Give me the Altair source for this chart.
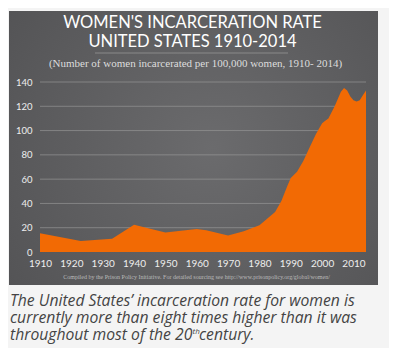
import altair as alt
import pandas as pd

# ---- data ----
years = [1910, 1923, 1933, 1940, 1950, 1960, 1963, 1970, 1975, 1980, 1985, 1987,
         1989, 1990, 1992, 1994, 1996, 1998, 2000, 2001, 2002, 2004, 2006, 2007,
         2008, 2009, 2010, 2011, 2012, 2013, 2014]
rates = [15.5, 9, 11, 22.5, 16, 19, 18, 13.5, 17, 22, 33, 42,
         55, 61, 66, 75, 86, 97, 106, 108, 110, 120, 132, 135,
         133, 128, 125, 124, 125, 129, 133]
grid_values = [20, 40, 60, 80, 100, 120, 140]
y_ticks = [0, 20, 40, 60, 80, 100, 120, 140]
x_ticks = [1910, 1920, 1930, 1940, 1950, 1960, 1970, 1980, 1990, 2000, 2010]
title_lines = ["WOMEN'S INCARCERATION RATE", "UNITED STATES 1910-2014"]
subtitle = "(Number of women incarcerated per 100,000 women, 1910- 2014)"
footer = ("Compiled by the Prison Policy Initiative. For detailed sourcing see "
          "http://www.prisonpolicy.org/global/women/")
caption_lines = ["The United States\u2019 incarceration rate for women is",
                 "currently more than eight times higher than it was",
                 "throughout most of the 20"]
caption_sup = "th"
caption_end = " century."

df = pd.DataFrame({"year": years, "rate": rates})
grid_df = pd.DataFrame({"v": grid_values})

W, H = 326, 170
ORANGE = "#f26a04"

xscale = alt.Scale(domain=[1910, 2014], nice=False, zero=False)
yscale = alt.Scale(domain=[0, 140], nice=False)

y_axis = alt.Axis(values=y_ticks, title=None, grid=False, domain=False, ticks=False,
                  labelColor="#eeeeee", labelFont="Lato", labelFontSize=9.5,
                  labelPadding=8, zindex=1)
x_axis = alt.Axis(values=x_ticks, format="d", title=None, grid=False, domain=False,
                  ticks=False, labelColor="#eeeeee", labelFont="Lato",
                  labelFontSize=10, labelPadding=6, labelFlush=False, zindex=1)

panel = alt.Chart(pd.DataFrame({"a": [0]})).mark_rect(
    color=alt.RadialGradient(
        gradient="radial", x1=0.55, y1=0.5, r1=0, x2=0.55, y2=0.5, r2=0.75,
        stops=[alt.GradientStop(offset=0, color="#6b6b6d"),
               alt.GradientStop(offset=1, color="#515153")])
).encode(x=alt.value(-31), x2=alt.value(338), y=alt.value(-71), y2=alt.value(203))

grid = alt.Chart(grid_df).mark_rule(color="#9a9a9a", strokeWidth=0.8, opacity=0.8).encode(
    y=alt.Y("v:Q", scale=yscale, axis=y_axis),
    x=alt.value(0), x2=alt.value(W))

area = alt.Chart(df).mark_area(color=ORANGE, opacity=1).encode(
    x=alt.X("year:Q", scale=xscale, axis=x_axis),
    y=alt.Y("rate:Q", scale=yscale, axis=y_axis))

def txt(text, x, y, **kw):
    return alt.Chart(pd.DataFrame({"t": [text]})).mark_text(**kw).encode(
        text="t:N", x=alt.value(x), y=alt.value(y))

CAP = dict(font="Open Sans", fontSize=15.7, fontStyle="italic", color="#444444",
           align="left", baseline="alphabetic")

texts = [
    txt(title_lines[0], 152.5, -54, font="Lato", fontSize=16.5, color="#ffffff",
        align="center", baseline="alphabetic"),
    txt(title_lines[1], 152.5, -35, font="Lato", fontSize=16.5, color="#ffffff",
        align="center", baseline="alphabetic"),
    txt(subtitle, 155.5, -15, font="Liberation Serif", fontSize=11, color="#dddddd",
        align="center", baseline="alphabetic"),
    txt(footer, 156.5, 197, font="Liberation Serif", fontSize=6, color="#bbbbbb",
        align="center", baseline="alphabetic"),
    txt(caption_lines[0], -30, 224, **CAP),
    txt(caption_lines[1], -30, 241, **CAP),
    txt(caption_lines[2], -30, 258, **CAP),
    txt(caption_sup, 152.5, 252, font="Open Sans", fontSize=8, fontStyle="italic",
        color="#444444", align="left", baseline="alphabetic"),
    txt(caption_end, 159, 258, **CAP),
]

divider = alt.Chart(pd.DataFrame({"a": [0]})).mark_rule(color="#8a8a8a", strokeWidth=1).encode(
    x=alt.value(55), x2=alt.value(248), y=alt.value(-29))

chart = alt.layer(panel, grid, area, divider, *texts).properties(
    width=W, height=H,
    background="#f4f4f4",
    padding={"left": 32, "top": 74, "right": 23, "bottom": 96},
    autosize=alt.AutoSizeParams(type="none"),
).configure_view(stroke=None)

chart.save("out.html", embed_options={"renderer": "svg", "actions": False})
